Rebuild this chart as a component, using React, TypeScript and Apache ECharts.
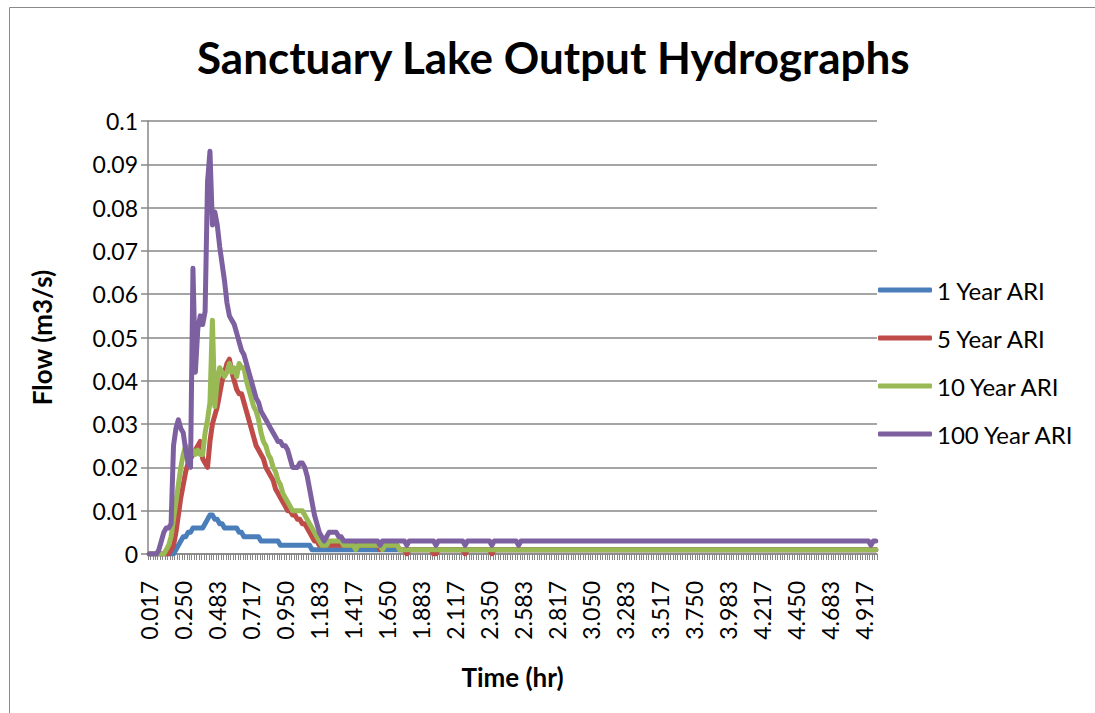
import React, { useEffect, useRef } from "react";
import * as echarts from "echarts";

// Time axis: one-minute steps from 0.017 h to 5.000 h
const categories: string[] = Array.from({ length: 300 }, (_, i) => ((i + 1) / 60).toFixed(3));

const seriesNames = ["1 Year ARI", "5 Year ARI", "10 Year ARI", "100 Year ARI"];
const seriesColors = ["#4A7EBB", "#BE4B48", "#98B954", "#7D60A0"];

const ari1 = [
  0, 0, 0, 0, 0, 0, 0, 0, 0, 0, 0, 0.001, 0.002, 0.003, 0.004, 0.004, 0.005, 0.005, 0.006, 0.006,
  0.006, 0.006, 0.006, 0.007, 0.008, 0.009, 0.009, 0.008, 0.008, 0.007, 0.007, 0.006, 0.006, 0.006, 0.006, 0.006, 0.006, 0.005, 0.005, 0.004,
  0.004, 0.004, 0.004, 0.004, 0.004, 0.004, 0.003, 0.003, 0.003, 0.003, 0.003, 0.003, 0.003, 0.003, 0.002, 0.002, 0.002, 0.002, 0.002, 0.002,
  0.002, 0.002, 0.002, 0.002, 0.002, 0.002, 0.002, 0.001, 0.001, 0.001, 0.001, 0.001, 0.001, 0.001, 0.001, 0.001, 0.001, 0.001, 0.001, 0.001,
  0.001, 0.001, 0.001, 0.001, 0.001, 0.001, 0.001, 0.001, 0.001, 0.001, 0.001, 0.001, 0.001, 0.001, 0.001, 0.001, 0.001, 0.001, 0.001, 0.001,
  0.001, 0.001, 0.001, 0.001, 0.001, 0.001, 0.001, 0.001, 0.001, 0.001, 0.001, 0.001, 0.001, 0.001, 0.001, 0.001, 0.001, 0.001, 0.001, 0.001,
  0.001, 0.001, 0.001, 0.001, 0.001, 0.001, 0.001, 0.001, 0.001, 0.001, 0.001, 0.001, 0.001, 0.001, 0.001, 0.001, 0.001, 0.001, 0.001, 0.001,
  0.001, 0.001, 0.001, 0.001, 0.001, 0.001, 0.001, 0.001, 0.001, 0.001, 0.001, 0.001, 0.001, 0.001, 0.001, 0.001, 0.001, 0.001, 0.001, 0.001,
  0.001, 0.001, 0.001, 0.001, 0.001, 0.001, 0.001, 0.001, 0.001, 0.001, 0.001, 0.001, 0.001, 0.001, 0.001, 0.001, 0.001, 0.001, 0.001, 0.001,
  0.001, 0.001, 0.001, 0.001, 0.001, 0.001, 0.001, 0.001, 0.001, 0.001, 0.001, 0.001, 0.001, 0.001, 0.001, 0.001, 0.001, 0.001, 0.001, 0.001,
  0.001, 0.001, 0.001, 0.001, 0.001, 0.001, 0.001, 0.001, 0.001, 0.001, 0.001, 0.001, 0.001, 0.001, 0.001, 0.001, 0.001, 0.001, 0.001, 0.001,
  0.001, 0.001, 0.001, 0.001, 0.001, 0.001, 0.001, 0.001, 0.001, 0.001, 0.001, 0.001, 0.001, 0.001, 0.001, 0.001, 0.001, 0.001, 0.001, 0.001,
  0.001, 0.001, 0.001, 0.001, 0.001, 0.001, 0.001, 0.001, 0.001, 0.001, 0.001, 0.001, 0.001, 0.001, 0.001, 0.001, 0.001, 0.001, 0.001, 0.001,
  0.001, 0.001, 0.001, 0.001, 0.001, 0.001, 0.001, 0.001, 0.001, 0.001, 0.001, 0.001, 0.001, 0.001, 0.001, 0.001, 0.001, 0.001, 0.001, 0.001,
  0.001, 0.001, 0.001, 0.001, 0.001, 0.001, 0.001, 0.001, 0.001, 0.001, 0.001, 0.001, 0.001, 0.001, 0.001, 0.001, 0.001, 0.001, 0.001, 0.001,
];

const ari5 = [
  0, 0, 0, 0, 0, 0, 0, 0, 0, 0.001, 0.002, 0.005, 0.009, 0.013, 0.016, 0.019, 0.021, 0.022, 0.023, 0.024,
  0.025, 0.026, 0.022, 0.021, 0.020, 0.026, 0.030, 0.032, 0.034, 0.037, 0.040, 0.042, 0.044, 0.045, 0.042, 0.040, 0.038, 0.037, 0.037, 0.035,
  0.033, 0.031, 0.029, 0.027, 0.025, 0.024, 0.023, 0.022, 0.020, 0.019, 0.018, 0.017, 0.015, 0.014, 0.013, 0.012, 0.011, 0.010, 0.010, 0.009,
  0.009, 0.008, 0.008, 0.007, 0.007, 0.006, 0.005, 0.004, 0.003, 0.003, 0.002, 0.002, 0.002, 0.002, 0.002, 0.002, 0.002, 0.002, 0.002, 0.002,
  0.002, 0.002, 0.002, 0.002, 0.002, 0.002, 0.002, 0.002, 0.002, 0.002, 0.002, 0.002, 0.002, 0.002, 0.002, 0.001, 0.002, 0.002, 0.002, 0.002,
  0.002, 0.002, 0.002, 0.001, 0.001, 0.001, 0, 0.001, 0.001, 0.001, 0.001, 0.001, 0.001, 0.001, 0.001, 0.001, 0.001, 0, 0, 0.001,
  0.001, 0.001, 0.001, 0.001, 0.001, 0.001, 0.001, 0.001, 0.001, 0.001, 0, 0.001, 0.001, 0.001, 0.001, 0.001, 0.001, 0.001, 0.001, 0.001,
  0.001, 0, 0.001, 0.001, 0.001, 0.001, 0.001, 0.001, 0.001, 0.001, 0.001, 0.001, 0.001, 0.001, 0.001, 0.001, 0.001, 0.001, 0.001, 0.001,
  0.001, 0.001, 0.001, 0.001, 0.001, 0.001, 0.001, 0.001, 0.001, 0.001, 0.001, 0.001, 0.001, 0.001, 0.001, 0.001, 0.001, 0.001, 0.001, 0.001,
  0.001, 0.001, 0.001, 0.001, 0.001, 0.001, 0.001, 0.001, 0.001, 0.001, 0.001, 0.001, 0.001, 0.001, 0.001, 0.001, 0.001, 0.001, 0.001, 0.001,
  0.001, 0.001, 0.001, 0.001, 0.001, 0.001, 0.001, 0.001, 0.001, 0.001, 0.001, 0.001, 0.001, 0.001, 0.001, 0.001, 0.001, 0.001, 0.001, 0.001,
  0.001, 0.001, 0.001, 0.001, 0.001, 0.001, 0.001, 0.001, 0.001, 0.001, 0.001, 0.001, 0.001, 0.001, 0.001, 0.001, 0.001, 0.001, 0.001, 0.001,
  0.001, 0.001, 0.001, 0.001, 0.001, 0.001, 0.001, 0.001, 0.001, 0.001, 0.001, 0.001, 0.001, 0.001, 0.001, 0.001, 0.001, 0.001, 0.001, 0.001,
  0.001, 0.001, 0.001, 0.001, 0.001, 0.001, 0.001, 0.001, 0.001, 0.001, 0.001, 0.001, 0.001, 0.001, 0.001, 0.001, 0.001, 0.001, 0.001, 0.001,
  0.001, 0.001, 0.001, 0.001, 0.001, 0.001, 0.001, 0.001, 0.001, 0.001, 0.001, 0.001, 0.001, 0.001, 0.001, 0.001, 0.001, 0.001, 0.001, 0.001,
];

const ari10 = [
  0, 0, 0, 0, 0, 0, 0, 0.001, 0.002, 0.004, 0.008, 0.012, 0.016, 0.020, 0.023, 0.025, 0.024, 0.023, 0.024, 0.023,
  0.024, 0.023, 0.023, 0.028, 0.031, 0.035, 0.054, 0.034, 0.040, 0.043, 0.042, 0.041, 0.042, 0.044, 0.042, 0.043, 0.041, 0.044, 0.043, 0.043,
  0.040, 0.038, 0.036, 0.034, 0.033, 0.031, 0.028, 0.026, 0.025, 0.023, 0.022, 0.020, 0.019, 0.017, 0.016, 0.014, 0.013, 0.012, 0.011, 0.010,
  0.010, 0.010, 0.010, 0.010, 0.009, 0.008, 0.007, 0.006, 0.005, 0.004, 0.003, 0.002, 0.002, 0.002, 0.003, 0.003, 0.003, 0.003, 0.003, 0.003,
  0.002, 0.002, 0.002, 0.002, 0.002, 0.001, 0.002, 0.002, 0.002, 0.002, 0.002, 0.002, 0.002, 0.002, 0.002, 0.002, 0.001, 0.002, 0.002, 0.002,
  0.002, 0.002, 0.002, 0.001, 0.001, 0.001, 0.001, 0.001, 0.001, 0.001, 0.001, 0.001, 0.001, 0.001, 0.001, 0.001, 0.001, 0.001, 0.001, 0.001,
  0.001, 0.001, 0.001, 0.001, 0.001, 0.001, 0.001, 0.001, 0.001, 0.001, 0.001, 0.001, 0.001, 0.001, 0.001, 0.001, 0.001, 0.001, 0.001, 0.001,
  0.001, 0.001, 0.001, 0.001, 0.001, 0.001, 0.001, 0.001, 0.001, 0.001, 0.001, 0.001, 0.001, 0.001, 0.001, 0.001, 0.001, 0.001, 0.001, 0.001,
  0.001, 0.001, 0.001, 0.001, 0.001, 0.001, 0.001, 0.001, 0.001, 0.001, 0.001, 0.001, 0.001, 0.001, 0.001, 0.001, 0.001, 0.001, 0.001, 0.001,
  0.001, 0.001, 0.001, 0.001, 0.001, 0.001, 0.001, 0.001, 0.001, 0.001, 0.001, 0.001, 0.001, 0.001, 0.001, 0.001, 0.001, 0.001, 0.001, 0.001,
  0.001, 0.001, 0.001, 0.001, 0.001, 0.001, 0.001, 0.001, 0.001, 0.001, 0.001, 0.001, 0.001, 0.001, 0.001, 0.001, 0.001, 0.001, 0.001, 0.001,
  0.001, 0.001, 0.001, 0.001, 0.001, 0.001, 0.001, 0.001, 0.001, 0.001, 0.001, 0.001, 0.001, 0.001, 0.001, 0.001, 0.001, 0.001, 0.001, 0.001,
  0.001, 0.001, 0.001, 0.001, 0.001, 0.001, 0.001, 0.001, 0.001, 0.001, 0.001, 0.001, 0.001, 0.001, 0.001, 0.001, 0.001, 0.001, 0.001, 0.001,
  0.001, 0.001, 0.001, 0.001, 0.001, 0.001, 0.001, 0.001, 0.001, 0.001, 0.001, 0.001, 0.001, 0.001, 0.001, 0.001, 0.001, 0.001, 0.001, 0.001,
  0.001, 0.001, 0.001, 0.001, 0.001, 0.001, 0.001, 0.001, 0.001, 0.001, 0.001, 0.001, 0.001, 0.001, 0.001, 0.001, 0.001, 0.001, 0.001, 0.001,
];

const ari100 = [
  0, 0, 0, 0, 0.001, 0.003, 0.005, 0.006, 0.006, 0.007, 0.025, 0.029, 0.031, 0.029, 0.028, 0.024, 0.021, 0.020, 0.066, 0.042,
  0.052, 0.055, 0.053, 0.056, 0.086, 0.093, 0.076, 0.079, 0.076, 0.071, 0.067, 0.063, 0.058, 0.055, 0.054, 0.053, 0.051, 0.049, 0.047, 0.046,
  0.044, 0.042, 0.040, 0.038, 0.036, 0.035, 0.033, 0.032, 0.031, 0.030, 0.029, 0.028, 0.027, 0.026, 0.026, 0.025, 0.025, 0.024, 0.022, 0.020,
  0.020, 0.020, 0.021, 0.021, 0.020, 0.018, 0.015, 0.012, 0.009, 0.007, 0.005, 0.004, 0.003, 0.004, 0.005, 0.005, 0.005, 0.005, 0.004, 0.004,
  0.003, 0.003, 0.003, 0.003, 0.003, 0.003, 0.003, 0.003, 0.003, 0.003, 0.003, 0.003, 0.003, 0.003, 0.003, 0.002, 0.003, 0.003, 0.003, 0.003,
  0.003, 0.003, 0.003, 0.003, 0.003, 0.003, 0.002, 0.003, 0.003, 0.003, 0.003, 0.003, 0.003, 0.003, 0.003, 0.003, 0.003, 0.003, 0.002, 0.003,
  0.003, 0.003, 0.003, 0.003, 0.003, 0.003, 0.003, 0.003, 0.003, 0.003, 0.002, 0.003, 0.003, 0.003, 0.003, 0.003, 0.003, 0.003, 0.003, 0.003,
  0.003, 0.002, 0.003, 0.003, 0.003, 0.003, 0.003, 0.003, 0.003, 0.003, 0.003, 0.003, 0.002, 0.003, 0.003, 0.003, 0.003, 0.003, 0.003, 0.003,
  0.003, 0.003, 0.003, 0.003, 0.003, 0.003, 0.003, 0.003, 0.003, 0.003, 0.003, 0.003, 0.003, 0.003, 0.003, 0.003, 0.003, 0.003, 0.003, 0.003,
  0.003, 0.003, 0.003, 0.003, 0.003, 0.003, 0.003, 0.003, 0.003, 0.003, 0.003, 0.003, 0.003, 0.003, 0.003, 0.003, 0.003, 0.003, 0.003, 0.003,
  0.003, 0.003, 0.003, 0.003, 0.003, 0.003, 0.003, 0.003, 0.003, 0.003, 0.003, 0.003, 0.003, 0.003, 0.003, 0.003, 0.003, 0.003, 0.003, 0.003,
  0.003, 0.003, 0.003, 0.003, 0.003, 0.003, 0.003, 0.003, 0.003, 0.003, 0.003, 0.003, 0.003, 0.003, 0.003, 0.003, 0.003, 0.003, 0.003, 0.003,
  0.003, 0.003, 0.003, 0.003, 0.003, 0.003, 0.003, 0.003, 0.003, 0.003, 0.003, 0.003, 0.003, 0.003, 0.003, 0.003, 0.003, 0.003, 0.003, 0.003,
  0.003, 0.003, 0.003, 0.003, 0.003, 0.003, 0.003, 0.003, 0.003, 0.003, 0.003, 0.003, 0.003, 0.003, 0.003, 0.003, 0.003, 0.003, 0.003, 0.003,
  0.003, 0.003, 0.003, 0.003, 0.003, 0.003, 0.003, 0.003, 0.003, 0.003, 0.003, 0.003, 0.003, 0.003, 0.003, 0.003, 0.003, 0.002, 0.003, 0.003,
];

const seriesData = [ari1, ari5, ari10, ari100];

const FONT = "Lato, 'Open Sans', 'Liberation Sans', sans-serif";
const GRID_GRAY = "#878787";

export default function App() {
  const ref = useRef<HTMLDivElement>(null);

  useEffect(() => {
    if (!ref.current) return;
    const chart = echarts.init(ref.current, undefined, { renderer: "svg" });
    chart.setOption({
      animation: false,
      backgroundColor: "#ffffff",
      textStyle: { fontFamily: FONT },
      title: {
        text: "Sanctuary Lake Output Hydrographs",
        left: 197,
        top: 35,
        padding: 0,
        textStyle: { fontFamily: FONT, fontSize: 44, fontWeight: "bold", color: "#000" },
      },
      graphic: [
        {
          type: "rect",
          shape: { x: 9.5, y: 7.5, width: 1200, height: 800 },
          style: { fill: "none", stroke: "#8a8a8a", lineWidth: 1 },
          silent: true,
        },
      ],
      legend: {
        orient: "vertical",
        left: 873,
        top: 273,
        itemWidth: 54,
        itemHeight: 5,
        itemGap: 24,
        icon: "roundRect",
        data: seriesNames,
        textStyle: { fontFamily: FONT, fontSize: 24, color: "#000", padding: [0, 0, 0, 0] },
      },
      grid: { left: 148, top: 121, width: 729, height: 433, containLabel: false },
      xAxis: {
        type: "category",
        data: categories,
        boundaryGap: true,
        name: "Time (hr)",
        nameLocation: "middle",
        nameGap: 110,
        nameTextStyle: { fontFamily: FONT, fontSize: 26, fontWeight: "bold", color: "#000" },
        axisLine: { lineStyle: { color: GRID_GRAY, width: 1.5 } },
        axisTick: { show: true, interval: 0, length: 6, lineStyle: { color: GRID_GRAY, width: 1 } },
        axisLabel: {
          interval: 13,
          rotate: 90,
          margin: 27,
          fontFamily: FONT,
          fontSize: 23,
          color: "#000",
        },
        splitLine: { show: false },
      },
      yAxis: {
        type: "value",
        min: 0,
        max: 0.1,
        interval: 0.01,
        name: "Flow (m3/s)",
        nameLocation: "middle",
        nameGap: 93,
        nameTextStyle: { fontFamily: FONT, fontSize: 26, fontWeight: "bold", color: "#000" },
        axisLine: { show: true, lineStyle: { color: GRID_GRAY, width: 1.5 } },
        axisTick: { show: true, length: 7, lineStyle: { color: GRID_GRAY, width: 1.5 } },
        axisLabel: {
          margin: 10,
          fontFamily: FONT,
          fontSize: 23,
          color: "#000",
          formatter: (v: number) => String(Number(v.toFixed(2))),
        },
        splitLine: { show: true, lineStyle: { color: GRID_GRAY, width: 1.5 } },
      },
      series: seriesNames.map((name, k) => ({
        name,
        type: "line",
        data: seriesData[k],
        symbol: "none",
        showSymbol: false,
        color: seriesColors[k],
        lineStyle: { color: seriesColors[k], width: 5, cap: "round", join: "round" },
        z: 2 + k,
      })),
    });
    return () => chart.dispose();
  }, []);

  return (
    <div
      ref={ref}
      style={{ position: "absolute", left: 0, top: 0, width: 1095, height: 713, background: "#fff" }}
    />
  );
}
